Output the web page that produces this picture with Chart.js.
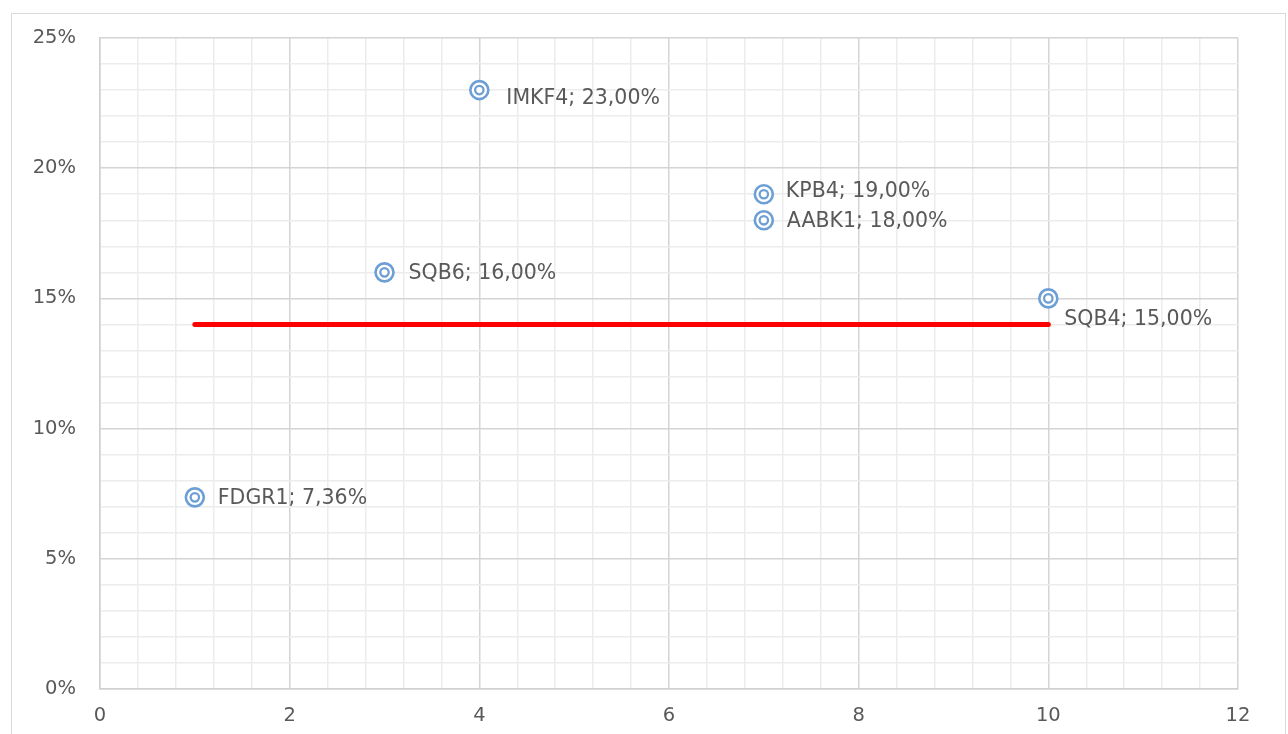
<!DOCTYPE html>
<html>
<head>
<meta charset="utf-8">
<script src="https://cdn.jsdelivr.net/npm/chart.js@4"></script>
<style>
    html, body { margin: 0; padding: 0; background: #fff; overflow: hidden; }
    #wrap { position: relative; width: 1288px; height: 734px; }
    #frame { position: absolute; left: 11px; top: 13px; width: 1275px; height: 740px; border: 1.5px solid #d9d9d9; box-sizing: border-box; }
    canvas { position: absolute; left: 0; top: 0; }
</style>
</head>
<body>
<div id="wrap">
    <div id="frame"></div>
    <canvas id="myChart" width="1288" height="734"></canvas>
</div>
<script>
const names = ['FDGR1', 'SQB6', 'IMKF4', 'KPB4', 'AABK1', 'SQB4'];
const xValues = [1, 3, 4, 7, 7, 10];
const yValues = [7.36, 16, 23, 19, 18, 15];
const lineX = [1, 10];
const lineY = [14, 14];
// label nudges in px, like moved labels in the original
const labelShift = [[23, 0], [24, 0], [27, 8], [22, -4], [23, 0], [16, 20]];

const points = xValues.map((x, i) => ({x: x, y: yValues[i]}));
const linePoints = lineX.map((x, i) => ({x: x, y: lineY[i]}));

const isMajor = (v, step) => Math.abs(v / step - Math.round(v / step)) < 1e-6;

const labelPlugin = {
    id: 'pointLabels',
    afterDatasetsDraw(chart) {
        const ctx = chart.ctx;
        const meta = chart.getDatasetMeta(1);
        ctx.save();
        ctx.font = '20.5px "DejaVu Sans"';
        ctx.fillStyle = '#595959';
        ctx.textBaseline = 'middle';
        meta.data.forEach((pt, i) => {
            const txt = names[i] + '; ' + yValues[i].toFixed(2).replace('.', ',') + '%';
            ctx.fillText(txt, pt.x + labelShift[i][0], pt.y + labelShift[i][1] + 1);
        });
        ctx.restore();
    }
};

let ctx = document.getElementById('myChart');
const myChart = new Chart(ctx, {
    type: 'scatter',
    data: {
        datasets: [{
            type: 'line',
            data: linePoints,
            borderColor: '#ff0000',
            borderWidth: 5,
            borderCapStyle: 'round',
            pointRadius: 0,
            fill: false,
            order: 3,
        }, {
            data: points,
            pointRadius: 9,
            pointBorderWidth: 2.6,
            pointBorderColor: '#6d9fd4',
            pointBackgroundColor: '#ffffff',
            order: 2,
        }, {
            data: points,
            pointRadius: 4.2,
            pointBorderWidth: 2.3,
            pointBorderColor: '#6d9fd4',
            pointBackgroundColor: 'rgba(0,0,0,0)',
            order: 1,
        }]
    },
    options: {
        responsive: false,
        animation: false,
        events: [],
        layout: {
            padding: {top: 38, right: 50, left: 0, bottom: 0}
        },
        plugins: {
            legend: {display: false},
            tooltip: {enabled: false},
        },
        scales: {
            x: {
                type: 'linear',
                min: 0,
                max: 12,
                afterFit: (axis) => { axis.height = 45; },
                ticks: {
                    stepSize: 0.4,
                    autoSkip: false,
                    maxRotation: 0,
                    padding: 15,
                    color: '#595959',
                    font: {family: 'DejaVu Sans', size: 19.5},
                    callback: (v) => isMajor(v, 2) ? Math.round(v) : '',
                },
                border: {color: '#d0d0d0', width: 1.5},
                grid: {
                    drawTicks: false,
                    color: (c) => isMajor(c.tick.value, 2) ? '#d4d4d4' : '#ececec',
                    lineWidth: 1.5,
                }
            },
            y: {
                type: 'linear',
                min: 0,
                max: 25,
                afterFit: (axis) => { axis.width = 100; },
                ticks: {
                    stepSize: 1,
                    autoSkip: false,
                    padding: 24,
                    color: '#595959',
                    font: {family: 'DejaVu Sans', size: 19.5},
                    callback: (v) => isMajor(v, 5) ? Math.round(v) + '%' : '',
                },
                border: {color: '#d0d0d0', width: 1.5},
                grid: {
                    drawTicks: false,
                    color: (c) => isMajor(c.tick.value, 5) ? '#d4d4d4' : '#ececec',
                    lineWidth: 1.5,
                }
            }
        }
    },
    plugins: [labelPlugin]
});
</script>
</body>
</html>
